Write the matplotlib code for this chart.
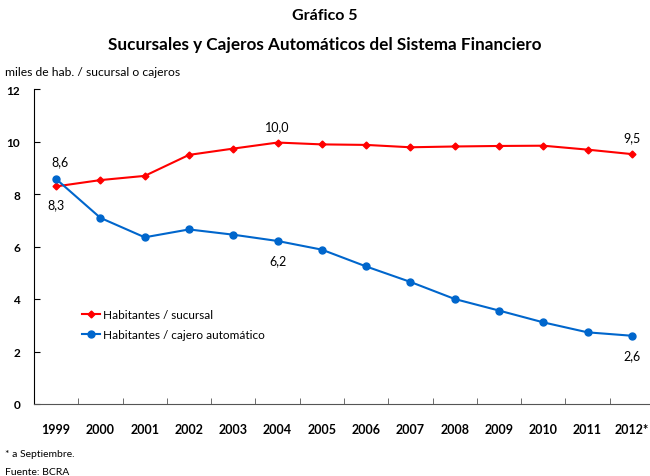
"""Gráfico 5: sucursales y cajeros automáticos del sistema financiero"""

import numpy as np
from matplotlib import pyplot as plt

plt.rc('font', family=['Lato', 'DejaVu Sans'])

years = ['1999', '2000', '2001', '2002', '2003', '2004', '2005',
         '2006', '2007', '2008', '2009', '2010', '2011', '2012*']
hab_sucursal = [8.29, 8.53, 8.69, 9.49, 9.73, 9.96, 9.89,
                9.87, 9.78, 9.81, 9.83, 9.84, 9.69, 9.52]
hab_cajero = [8.57, 7.09, 6.35, 6.65, 6.45, 6.21, 5.88,
              5.24, 4.65, 4.00, 3.56, 3.11, 2.73, 2.60]

# labelled points: (serie, indice, texto, desplazamiento en pt)
etiquetas = [
    (hab_cajero, 0, '8,6', (3, 13)),
    (hab_sucursal, 0, '8,3', (0, -13)),
    (hab_sucursal, 5, '10,0', (0, 12)),
    (hab_cajero, 5, '6,2', (0, -14)),
    (hab_sucursal, 13, '9,5', (0, 12)),
    (hab_cajero, 13, '2,6', (0, -14)),
]

rojo = '#ff0000'
azul = '#0066cc'

fig = plt.figure(figsize=(6.5, 4.77), dpi=100)
ax = fig.add_axes([34 / 650, 72 / 477, 620 / 650, 315 / 477])

x = np.arange(len(years))
ax.plot(x, hab_sucursal, color=rojo, lw=1.5, marker='D', ms=3.5,
        label='Habitantes / sucursal')
ax.plot(x, hab_cajero, color=azul, lw=1.5, marker='o', ms=5,
        label='Habitantes / cajero automático')

for serie, i, txt, off in etiquetas:
    ax.annotate(txt, (x[i], serie[i]), xytext=off, textcoords='offset points',
                ha='center', va='center', fontsize=9)

ax.set_xlim(-0.5, len(years) - 0.5)
ax.set_ylim(0, 12)
ax.set_yticks(np.arange(0, 13, 2))
ax.set_xticks(x)
ax.set_xticklabels(years, fontweight='bold', fontsize=9)
ax.set_xticks(np.arange(0.5, len(years) - 1, 1), minor=True)
ax.tick_params(axis='x', which='major', length=0, pad=14)
ax.tick_params(axis='x', which='minor', direction='in', length=4,
               color='#555555')
ax.tick_params(axis='y', direction='in', length=4, labelsize=8.5, pad=10)
for lab in ax.get_yticklabels():
    lab.set_fontweight('bold')

for s in ['top', 'right']:
    ax.spines[s].set_visible(False)
ax.spines['bottom'].set_color('#555555')

leg = ax.legend(loc='upper left', bbox_to_anchor=(0.06, 0.335), frameon=False,
                fontsize=8.5, handlelength=1.5, handletextpad=0.3,
                labelspacing=0.75)

fig.text(0.5, 1 - 16 / 477, 'Gráfico 5', ha='center', va='center',
         fontsize=11.5, fontweight='bold')
fig.text(0.5, 1 - 45 / 477, 'Sucursales y Cajeros Automáticos del Sistema Financiero',
         ha='center', va='center', fontsize=12.3, fontweight='bold')
fig.text(5 / 650, 1 - 72 / 477, 'miles de hab. / sucursal o cajeros',
         ha='left', va='center', fontsize=8.7)
fig.text(5 / 650, 1 - 455 / 477, '* a Septiembre.', ha='left', va='center',
         fontsize=7.5)
fig.text(5 / 650, 1 - 473 / 477, 'Fuente: BCRA', ha='left', va='center',
         fontsize=7.5)

fig.savefig('out.png', dpi=100)
